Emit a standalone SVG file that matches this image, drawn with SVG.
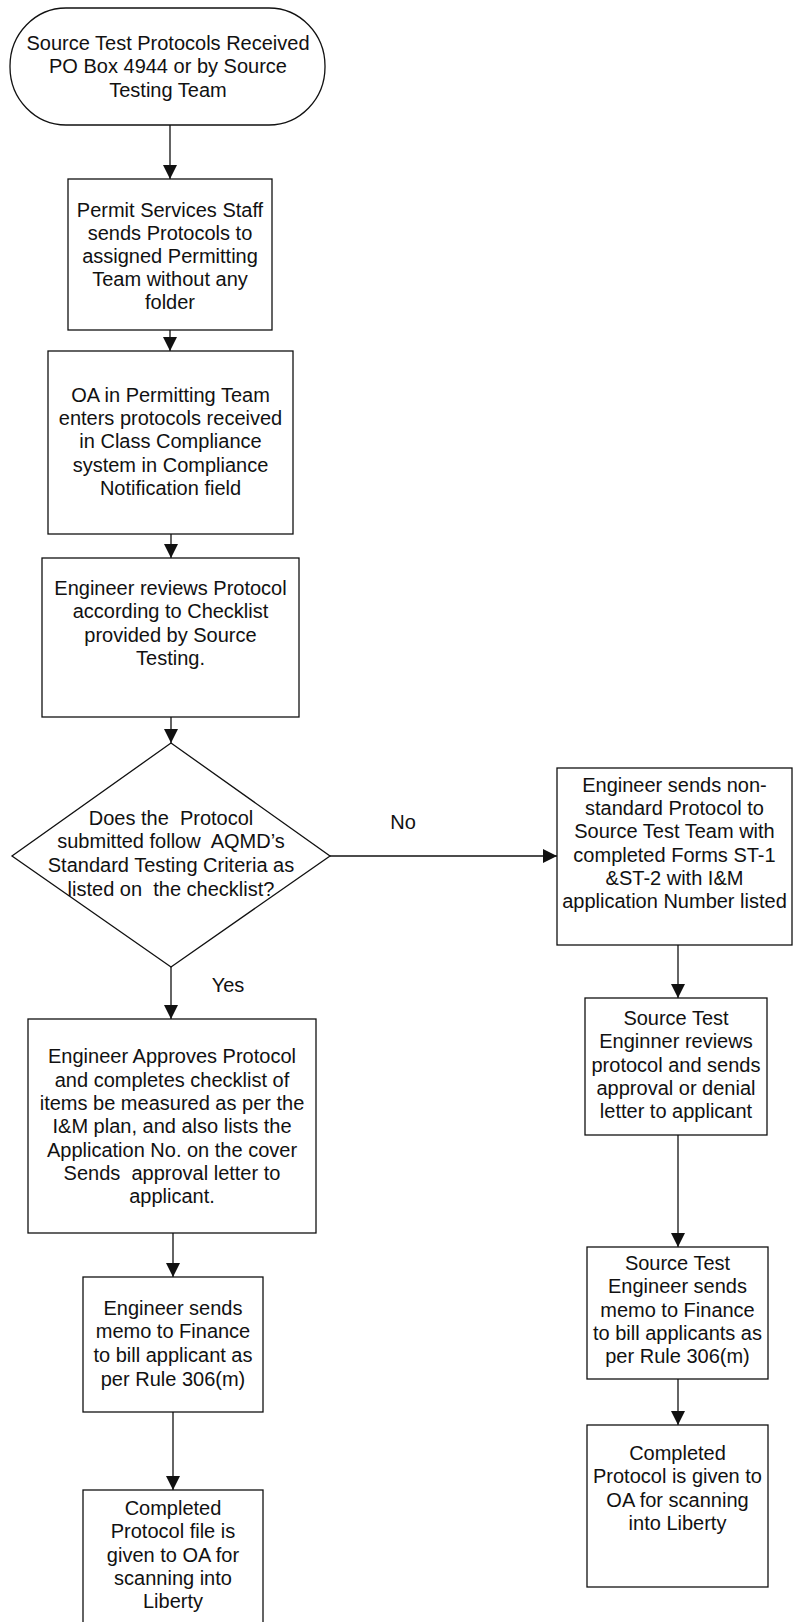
<svg xmlns="http://www.w3.org/2000/svg" width="793" height="1622" viewBox="0 0 793 1622">
<style>
.shape{fill:#fff;stroke:#111;stroke-width:1.3}
.t{font-family:"Liberation Sans",Arial,sans-serif;font-size:20px;fill:#111;text-anchor:middle}
.c{stroke:#111;stroke-width:1.3;fill:none;marker-end:url(#ah)}
</style>
<defs>
<marker id="ah" markerUnits="userSpaceOnUse" markerWidth="14" markerHeight="14" refX="14" refY="7" orient="auto">
<path d="M0,0 L14,7 L0,14 z" fill="#111"/>
</marker>
</defs>
<rect width="793" height="1622" fill="#fff"/>
<g id="connectors">
<line class="c" x1="170" y1="125" x2="170" y2="179"/>
<line class="c" x1="170" y1="330" x2="170" y2="351"/>
<line class="c" x1="171" y1="534" x2="171" y2="558"/>
<line class="c" x1="171" y1="717" x2="171" y2="743"/>
<line class="c" x1="171" y1="967" x2="171" y2="1019"/>
<line class="c" x1="330" y1="856" x2="557" y2="856"/>
<line class="c" x1="173" y1="1233" x2="173" y2="1277"/>
<line class="c" x1="173" y1="1412" x2="173" y2="1490"/>
<line class="c" x1="678" y1="945" x2="678" y2="998"/>
<line class="c" x1="678" y1="1135" x2="678" y2="1247"/>
<line class="c" x1="678" y1="1379" x2="678" y2="1425"/>
<text class="t" x="403" y="829">No</text>
<text class="t" x="228" y="992">Yes</text>
</g>
<g id="start">
<rect class="shape" x="10" y="8" width="315" height="117" rx="56" ry="58"/>
<text class="t" x="168" y="50">Source Test Protocols Received</text>
<text class="t" x="168" y="73">PO Box 4944 or by Source</text>
<text class="t" x="168" y="97">Testing Team</text>
</g>
<g id="permit-services">
<rect class="shape" x="68" y="179" width="204" height="151"/>
<text class="t" x="170" y="217">Permit Services Staff</text>
<text class="t" x="170" y="240">sends Protocols to</text>
<text class="t" x="170" y="263">assigned Permitting</text>
<text class="t" x="170" y="286">Team without any</text>
<text class="t" x="170" y="309">folder</text>
</g>
<g id="oa-enters">
<rect class="shape" x="48" y="351" width="245" height="183"/>
<text class="t" x="170.5" y="402">OA in Permitting Team</text>
<text class="t" x="170.5" y="425">enters protocols received</text>
<text class="t" x="170.5" y="448">in Class Compliance</text>
<text class="t" x="170.5" y="472">system in Compliance</text>
<text class="t" x="170.5" y="495">Notification field</text>
</g>
<g id="engineer-reviews">
<rect class="shape" x="42" y="558" width="257" height="159"/>
<text class="t" x="170.5" y="595">Engineer reviews Protocol</text>
<text class="t" x="170.5" y="618">according to Checklist</text>
<text class="t" x="170.5" y="642">provided by Source</text>
<text class="t" x="170.5" y="665">Testing.</text>
</g>
<g id="decision">
<polygon class="shape" points="171,743 330,856 171,967 12,856"/>
<text class="t" x="171" y="825" xml:space="preserve">Does the  Protocol</text>
<text class="t" x="171" y="848" xml:space="preserve">submitted follow  AQMD’s</text>
<text class="t" x="171" y="872">Standard Testing Criteria as</text>
<text class="t" x="171" y="896" xml:space="preserve">listed on  the checklist?</text>
</g>
<g id="engineer-approves">
<rect class="shape" x="28" y="1019" width="288" height="214"/>
<text class="t" x="172" y="1063">Engineer Approves Protocol</text>
<text class="t" x="172" y="1087">and completes checklist of</text>
<text class="t" x="172" y="1110">items be measured as per the</text>
<text class="t" x="172" y="1133">I&amp;M plan, and also lists the</text>
<text class="t" x="172" y="1157">Application No. on the cover</text>
<text class="t" x="172" y="1180" xml:space="preserve">Sends  approval letter to</text>
<text class="t" x="172" y="1203">applicant.</text>
</g>
<g id="engineer-memo">
<rect class="shape" x="83" y="1277" width="180" height="135"/>
<text class="t" x="173" y="1315">Engineer sends</text>
<text class="t" x="173" y="1338">memo to Finance</text>
<text class="t" x="173" y="1362">to bill applicant as</text>
<text class="t" x="173" y="1386">per Rule 306(m)</text>
</g>
<g id="completed-left">
<rect class="shape" x="83" y="1490" width="180" height="140"/>
<text class="t" x="173" y="1515">Completed</text>
<text class="t" x="173" y="1538">Protocol file is</text>
<text class="t" x="173" y="1562">given to OA for</text>
<text class="t" x="173" y="1585">scanning into</text>
<text class="t" x="173" y="1608">Liberty</text>
</g>
<g id="non-standard">
<rect class="shape" x="557" y="768" width="235" height="177"/>
<text class="t" x="674.5" y="792">Engineer sends non-</text>
<text class="t" x="674.5" y="815">standard Protocol to</text>
<text class="t" x="674.5" y="838">Source Test Team with</text>
<text class="t" x="674.5" y="862">completed Forms ST-1</text>
<text class="t" x="674.5" y="885">&amp;ST-2 with I&amp;M</text>
<text class="t" x="674.5" y="908">application Number listed</text>
</g>
<g id="source-test-reviews">
<rect class="shape" x="585" y="998" width="182" height="137"/>
<text class="t" x="676" y="1025">Source Test</text>
<text class="t" x="676" y="1048">Enginner reviews</text>
<text class="t" x="676" y="1072">protocol and sends</text>
<text class="t" x="676" y="1095">approval or denial</text>
<text class="t" x="676" y="1118">letter to applicant</text>
</g>
<g id="source-test-memo">
<rect class="shape" x="587" y="1247" width="181" height="132"/>
<text class="t" x="677.5" y="1270">Source Test</text>
<text class="t" x="677.5" y="1293">Engineer sends</text>
<text class="t" x="677.5" y="1317">memo to Finance</text>
<text class="t" x="677.5" y="1340">to bill applicants as</text>
<text class="t" x="677.5" y="1363">per Rule 306(m)</text>
</g>
<g id="completed-right">
<rect class="shape" x="587" y="1425" width="181" height="162"/>
<text class="t" x="677.5" y="1460">Completed</text>
<text class="t" x="677.5" y="1483">Protocol is given to</text>
<text class="t" x="677.5" y="1507">OA for scanning</text>
<text class="t" x="677.5" y="1530">into Liberty</text>
</g>
</svg>
